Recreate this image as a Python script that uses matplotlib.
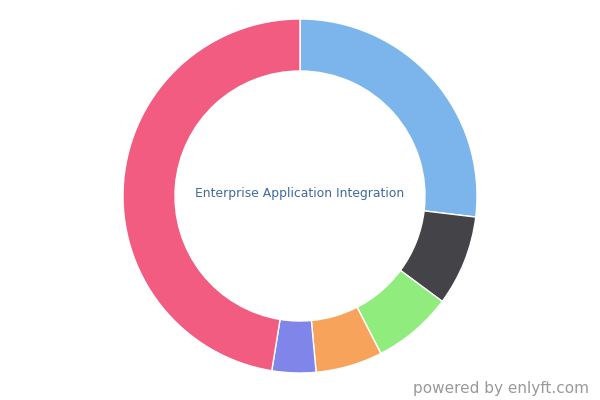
import matplotlib
matplotlib.use("Agg")
import matplotlib.pyplot as plt

# slice shares (percent), clockwise from 12 o'clock
labels = ["Blue", "Dark", "Green", "Orange", "Purple", "Pink"]
shares = [26.9, 8.25, 7.3, 6.1, 4.0, 47.45]
colors = ["#7cb5ec", "#434348", "#90ed7d", "#f7a35c", "#8085e9", "#f15c80"]
title = "Enterprise Application Integration"
credit = "powered by enlyft.com"

fig = plt.figure(figsize=(6, 4), dpi=100)
ax = fig.add_axes([0, 0, 1, 1])

ax.pie(shares, colors=colors, startangle=90, counterclock=False,
       center=(300, 204), radius=177,
       wedgeprops=dict(width=52, edgecolor="white", linewidth=1))
ax.set_xlim(0, 600)
ax.set_ylim(0, 400)
ax.set_aspect("equal")
ax.axis("off")

ax.text(300, 207, title, ha="center", va="center", fontsize=8.9,
        color="#3e6aa0", family="DejaVu Sans")
ax.text(589, 12, credit, ha="right", va="center", fontsize=11,
        color="#999999", family="DejaVu Sans")

fig.savefig("out.png", dpi=100)
